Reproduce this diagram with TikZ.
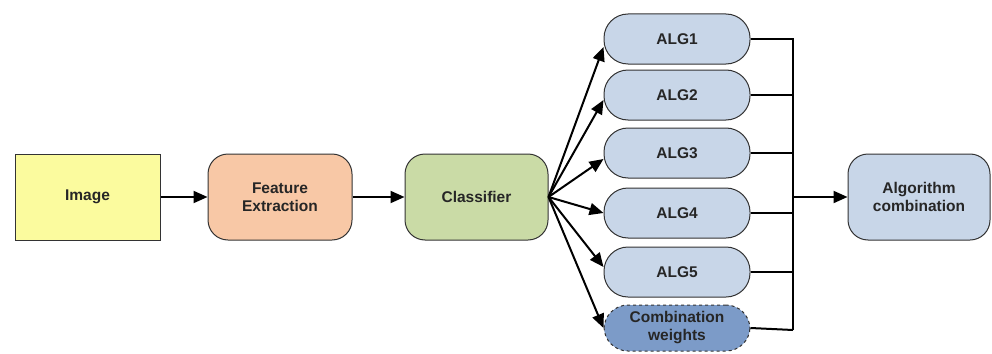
\documentclass[tikz,border=0pt]{standalone}
\usepackage{fontspec}
\setmainfont{Liberation Sans}
\usetikzlibrary{arrows.meta,calc}
\definecolor{imgfill}{HTML}{FBFB9E}
\definecolor{featfill}{HTML}{F8C8A6}
\definecolor{clsfill}{HTML}{CADBA6}
\definecolor{algfill}{HTML}{C8D6E8}
\definecolor{wfill}{HTML}{7C9BC8}
\definecolor{edge}{HTML}{333333}
\begin{document}
\begin{tikzpicture}[x=1pt,y=-1pt,
  box/.style={draw=edge, line width=1pt, font=\bfseries\fontsize{15.5}{18}\selectfont, align=center, inner sep=0pt, text=black!85},
  rbox/.style={box, rounded corners=20pt, minimum width=144pt, minimum height=86pt},
  pill/.style={box, rounded corners=24pt, minimum width=146pt, minimum height=50pt, fill=algfill},
  arr/.style={-{Triangle[length=14pt,width=12pt]}, line width=2pt},
  ln/.style={line width=2pt}
]
\useasboundingbox (0,0) rectangle (992,353);
\node[box, minimum width=145pt, minimum height=86pt, fill=imgfill] (img) at (87.5,197) {Image};
\node[rbox, fill=featfill] (feat) at (280,197) {Feature\\Extraction};
\node[rbox, fill=clsfill, minimum width=143pt] (cls) at (476.5,197) {Classifier};
\node[pill] (a1) at (677,39) {ALG1};
\node[pill] (a2) at (677,95) {ALG2};
\node[pill] (a3) at (677,153) {ALG3};
\node[pill] (a4) at (677,213) {ALG4};
\node[pill] (a5) at (677,272) {ALG5};
\node[pill, fill=wfill, dashed, minimum height=46pt] (cw) at (677,328) {Combination\\weights};
\node[rbox, fill=algfill, minimum width=142pt] (comb) at (919,197) {Algorithm\\combination};
\coordinate (bt) at (793,39);
\coordinate (bb) at (793,330);
\coordinate (bm) at (793,197);
\draw[arr] (img) -- (feat);
\draw[arr] (feat) -- (cls);
\draw[arr] (cls.east) -- ($(a1.west)+(0,8)$);
\draw[arr] (cls.east) -- ($(a2.west)+(0,5)$);
\draw[arr] (cls.east) -- ($(a3.west)+(0,6)$);
\draw[arr] (cls.east) -- (a4.west);
\draw[arr] (cls.east) -- ($(a5.west)+(0,-5)$);
\draw[arr] (cls.east) -- (cw.west);
\draw[ln] (a1.east) -- (bt) -- (bb);
\draw[ln] (a2.east) -- (a2.east -| bm);
\draw[ln] (a3.east) -- (a3.east -| bm);
\draw[ln] (a4.east) -- (a4.east -| bm);
\draw[ln] (a5.east) -- (a5.east -| bm);
\draw[ln] (cw.east) -- (bb);
\draw[arr] (bm) -- (comb);
\end{tikzpicture}
\end{document}
